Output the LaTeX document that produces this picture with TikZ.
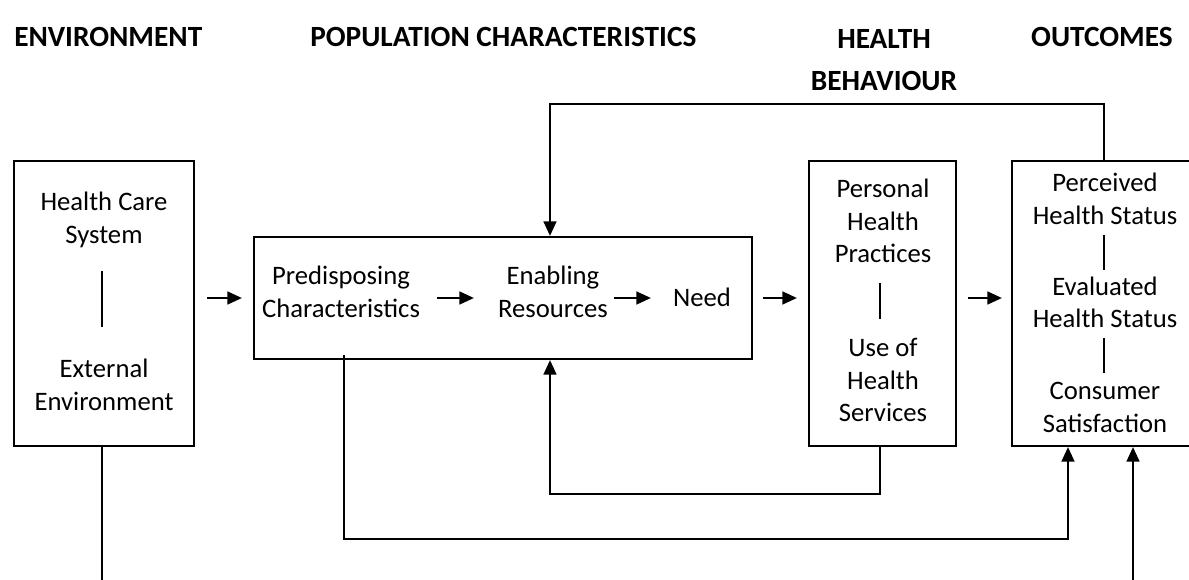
\documentclass[tikz,border=0pt]{standalone}
\usepackage{fontspec}
\setmainfont{Carlito}
\usetikzlibrary{arrows.meta,calc}
\begin{document}
\begin{tikzpicture}[x=0.75pt,y=-0.75pt,
  box/.style={draw,line width=1.5pt,inner sep=0pt},
  body/.style={font=\fontsize{20}{24.4}\selectfont,align=center,inner sep=0pt},
  head/.style={font=\fontsize{22}{31.5}\selectfont\bfseries,align=center,inner sep=0pt},
  link/.style={line width=2pt},
  arr/.style={link,-{Triangle[length=11pt,width=9.5pt]}},
  sep/.style={line width=1.3pt}]
\useasboundingbox (0,0) rectangle (1189,580);

% column headings
\node[head,anchor=west] (hEnv) at (14,37) {ENVIRONMENT};
\node[head,anchor=west] (hPop) at (310,37) {POPULATION CHARACTERISTICS};
\node[head] (hBeh) at (884,60) {HEALTH\\BEHAVIOUR};
\node[head,anchor=east] (hOut) at (1173,37) {OUTCOMES};

% boxes
\node[box,minimum width=135pt,minimum height=213.75pt] (env) at (104,303.5) {};
\node[box,minimum width=373.5pt,minimum height=91.5pt] (pop) at (503,298) {};
\node[box,minimum width=110.25pt,minimum height=213.75pt] (hb) at (882.5,303.5) {};
\node[box,minimum width=141pt,minimum height=213.75pt] (out) at (1106,303.5) {};

% environment
\node[body] (hcs) at (104,220) {Health Care\\System};
\node[body] (ext) at (104,385) {External\\Environment};
\draw[sep] ([xshift=-1.5pt]env.center |- 0,271) coordinate (envsa) -- ([xshift=-1.5pt]env.center |- 0,327) coordinate (envsb);

% population characteristics
\node[body] (pred) at (341,292) {Predisposing\\Characteristics};
\node[body] (enab) at (553,292) {Enabling\\Resources};
\node[body] (need) at (702,297) {Need};
\draw[arr] ($(pop.west)+(184,0)$) -- ($(pop.west)+(221,0)$);
\draw[arr] ($(pop.west)+(361,0)$) -- ($(pop.west)+(398,0)$);

% health behaviour
\node[body] (php) at (883,221) {Personal\\Health\\Practices};
\node[body] (uhs) at (883,380) {Use of\\Health\\Services};
\draw[sep] (880,283) coordinate (hbsa) -- (880,319) coordinate (hbsb);

% outcomes
\node[body] (phs) at (1105,199) {Perceived\\Health Status};
\node[body] (ehs) at (1105,302.5) {Evaluated\\Health Status};
\node[body] (cs) at (1105,407.5) {Consumer\\Satisfaction};
\draw[sep] (1104,235) coordinate (osa) -- (1104,270) coordinate (osb);
\draw[sep] (1104,338) coordinate (osc) -- (1104,373) coordinate (osd);

% forward arrows between stages
\draw[arr] ([xshift=9pt]env.east |- pop.west) -- ([xshift=-8.25pt]pop.west);
\draw[arr] ([xshift=7.5pt]pop.east) -- ([xshift=-8.25pt]hb.west |- pop.east);
\draw[arr] ([xshift=8.25pt]hb.east |- pop.east) -- ([xshift=-6.75pt]out.west |- pop.east);

% feedback from outcomes to enabling resources
\coordinate (fbA) at ([xshift=-1.5pt]out.north);
\coordinate (fbB) at ([xshift=-2.25pt]enab.center |- pop.north);
\draw[arr] (fbA) -- ++(0,-56) -| (fbB);

% feedback from use of health services to enabling resources
\coordinate (huA) at ([xshift=-1.875pt]hb.south);
\coordinate (huB) at ([xshift=-2.25pt]enab.center |- pop.south);
\draw[arr] (huA) -- ++(0,47) -| (huB);

% predisposing characteristics to outcomes
\coordinate (prA) at ($(pred.center |- pop.south)+(3,-5)$);
\coordinate (prB) at ([xshift=-28.5pt]out.south);
\draw[arr] (prA) -- (prA |- 0,539) -| (prB);

% environment to outcomes (running below the frame)
\coordinate (evA) at ([xshift=-1.5pt]env.south);
\coordinate (evB) at ([xshift=20.25pt]out.south);
\draw[link] (evA) -- ++(0,150);
\draw[arr] ($(evB)+(0,150)$) -- (evB);
\end{tikzpicture}
\end{document}
